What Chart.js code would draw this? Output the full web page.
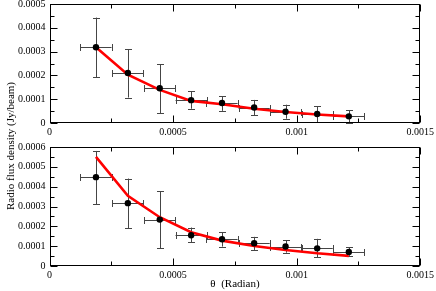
<!DOCTYPE html>
<html>
<head>
<meta charset="utf-8">
<script src="https://cdn.jsdelivr.net/npm/chart.js@4"></script>
<style>
  html, body { margin: 0; padding: 0; background: #fff; }
  #wrap { position: relative; width: 436px; height: 291px; overflow: hidden; background: #fff; }
  canvas { position: absolute; left: 0; }
  .txt { position: absolute; font-family: "Liberation Serif", "DejaVu Serif", serif; font-size: 11px; color: #000; white-space: nowrap; }
</style>
</head>
<body>
<div id="wrap">
  <canvas id="top" width="437" height="146" style="top:-6px;width:437px;height:146px"></canvas>
  <canvas id="bot" width="437" height="146" style="top:137px;width:437px;height:146px"></canvas>
  <div class="txt" id="ytitle" style="left:10px;top:146px;transform:translate(-50%,-50%) rotate(-90deg);">Radio flux density (Jy/beam)</div>
  <div class="txt" id="xtitle" style="left:235px;top:283px;transform:translate(-50%,-50%);">θ&nbsp;&nbsp;(Radian)</div>
</div>
<script>
// ---------- data ----------
const theta = [0.000188, 0.000317, 0.000446, 0.000573, 0.000698, 0.000828, 0.000955, 0.001083, 0.001211];
const thetaErr = [0.000063, 0.000063, 0.000063, 0.000063, 0.000063, 0.000063, 0.000063, 0.000063, 0.000063];

const topFlux  = [0.000318, 0.000210, 0.000146, 0.000096, 0.000084, 0.000065, 0.000047, 0.000038, 0.000028];
const topHi    = [0.000443, 0.000310, 0.000247, 0.000134, 0.000113, 0.000097, 0.000077, 0.000071, 0.000054];
const topLo    = [0.000192, 0.000107, 0.000042, 0.000060, 0.000051, 0.000033, 0.000018, 0.000003, 0.000000];
const topModel = [0.000318, 0.000203, 0.000139, 0.000093, 0.000079, 0.000060, 0.000046, 0.000036, 0.000028];

const botFlux  = [0.000448, 0.000317, 0.000234, 0.000155, 0.000135, 0.000115, 0.000098, 0.000089, 0.000071];
const botHi    = [0.000580, 0.000441, 0.000378, 0.000194, 0.000170, 0.000147, 0.000130, 0.000137, 0.000095];
const botLo    = [0.000312, 0.000190, 0.000089, 0.000120, 0.000098, 0.000081, 0.000067, 0.000044, 0.000051];
const botModel = [0.000550, 0.000354, 0.000246, 0.000170, 0.000128, 0.000101, 0.000081, 0.000064, 0.000051];

const xTicks = [0, 0.0005, 0.001, 0.0015];
const topYTicks = [0, 0.0001, 0.0002, 0.0003, 0.0004, 0.0005];
const botYTicks = [0, 0.0001, 0.0002, 0.0003, 0.0004, 0.0005, 0.0006];

// ---------- helpers ----------
const FONT = { family: '"Liberation Serif", "DejaVu Serif", serif', size: 10 };
function fmt(v) { return String(Number(Number(v).toPrecision(6))); }

const errorBars = {
  id: 'errorBars',
  beforeDatasetsDraw(chart, args, opts) {
    const xs = chart.scales.x, ys = chart.scales.y, ctx = chart.ctx;
    ctx.save();
    ctx.strokeStyle = '#454545';
    ctx.lineWidth = 1;
    const cap = 3.5;
    for (let i = 0; i < opts.x.length; i++) {
      const px = Math.round(xs.getPixelForValue(opts.x[i])) + 0.5;
      const py = Math.round(ys.getPixelForValue(opts.y[i])) + 0.5;
      const yh = ys.getPixelForValue(opts.hi[i]), yl = ys.getPixelForValue(opts.lo[i]);
      const xl = xs.getPixelForValue(opts.x[i] - opts.xe[i]), xr = xs.getPixelForValue(opts.x[i] + opts.xe[i]);
      ctx.beginPath();
      ctx.moveTo(px, yh); ctx.lineTo(px, yl);
      ctx.moveTo(px - cap, Math.round(yh) + 0.5); ctx.lineTo(px + cap, Math.round(yh) + 0.5);
      ctx.moveTo(px - cap, Math.round(yl) + 0.5); ctx.lineTo(px + cap, Math.round(yl) + 0.5);
      ctx.moveTo(xl, py); ctx.lineTo(xr, py);
      ctx.moveTo(Math.round(xl) + 0.5, py - cap); ctx.lineTo(Math.round(xl) + 0.5, py + cap);
      ctx.moveTo(Math.round(xr) + 0.5, py - cap); ctx.lineTo(Math.round(xr) + 0.5, py + cap);
      ctx.stroke();
    }
    ctx.restore();
  }
};

const frameTicks = {
  id: 'frameTicks',
  afterDraw(chart) {
    const a = chart.chartArea, ctx = chart.ctx;
    const xs = chart.scales.x, ys = chart.scales.y;
    ctx.save();
    ctx.strokeStyle = '#000';
    ctx.lineWidth = 1;
    const L = Math.round(a.left) + 0.5, R = Math.round(a.right) - 0.5;
    const T = Math.round(a.top) + 0.5, B = Math.round(a.bottom) - 0.5;
    ctx.beginPath();
    const major = 7, minor = 4;
    const xt = xs.ticks.map(t => t.value);
    for (let i = 0; i < xt.length; i++) {
      const p = Math.round(xs.getPixelForValue(xt[i])) + 0.5;
      ctx.moveTo(p, B); ctx.lineTo(p, B - major);
      ctx.moveTo(p, T); ctx.lineTo(p, T + major);
      if (i < xt.length - 1) {
        const m = Math.round(xs.getPixelForValue((xt[i] + xt[i + 1]) / 2)) + 0.5;
        ctx.moveTo(m, B); ctx.lineTo(m, B - minor);
        ctx.moveTo(m, T); ctx.lineTo(m, T + minor);
      }
    }
    const yt = ys.ticks.map(t => t.value);
    for (let i = 0; i < yt.length; i++) {
      const p = Math.round(ys.getPixelForValue(yt[i])) + 0.5;
      ctx.moveTo(L, p); ctx.lineTo(L + major, p);
      ctx.moveTo(R, p); ctx.lineTo(R - major, p);
      if (i < yt.length - 1) {
        const m = Math.round(ys.getPixelForValue((yt[i] + yt[i + 1]) / 2)) + 0.5;
        ctx.moveTo(L, m); ctx.lineTo(L + minor, m);
        ctx.moveTo(R, m); ctx.lineTo(R - minor, m);
      }
    }
    ctx.stroke();
    ctx.strokeRect(L, T, R - L, B - T);
    ctx.restore();
  }
};

function makeChart(id, flux, lo, hi, model, yTicks) {
  const pts = theta.map((x, i) => ({ x, y: flux[i] }));
  const line = theta.map((x, i) => ({ x, y: model[i] }));
  return new Chart(document.getElementById(id), {
    type: 'scatter',
    data: {
      datasets: [
        { type: 'line', data: line, borderColor: '#ff0000', borderWidth: 2.6, pointRadius: 0, fill: false, tension: 0, order: 1 },
        { data: pts, backgroundColor: '#000', borderColor: '#000', borderWidth: 0, pointRadius: 3.2, order: 0 }
      ]
    },
    options: {
      responsive: false,
      animation: false,
      events: [],
      layout: { padding: { left: 0, right: 16, top: 0, bottom: 0 } },
      plugins: {
        legend: { display: false },
        tooltip: { enabled: false },
        errorBars: { x: theta, xe: thetaErr, y: flux, lo, hi }
      },
      scales: {
        x: {
          type: 'linear',
          min: xTicks[0], max: xTicks[xTicks.length - 1],
          afterBuildTicks: s => { s.ticks = xTicks.map(v => ({ value: v })); },
          afterFit: s => { s.height = 17; },
          grid: { display: false, drawTicks: false },
          border: { display: false },
          ticks: { color: '#000', font: FONT, padding: 3, maxRotation: 0, autoSkip: false, callback: v => fmt(v) }
        },
        y: {
          type: 'linear',
          min: yTicks[0], max: yTicks[yTicks.length - 1],
          afterBuildTicks: s => { s.ticks = yTicks.map(v => ({ value: v })); },
          afterFit: s => { s.width = 49.5; },
          grid: { display: false, drawTicks: false },
          border: { display: false },
          ticks: { color: '#000', font: FONT, padding: 4, autoSkip: false, callback: v => fmt(v) }
        }
      }
    },
    plugins: [errorBars, frameTicks]
  });
}

makeChart('top', topFlux, topLo, topHi, topModel, topYTicks);
makeChart('bot', botFlux, botLo, botHi, botModel, botYTicks);
</script>
</body>
</html>
